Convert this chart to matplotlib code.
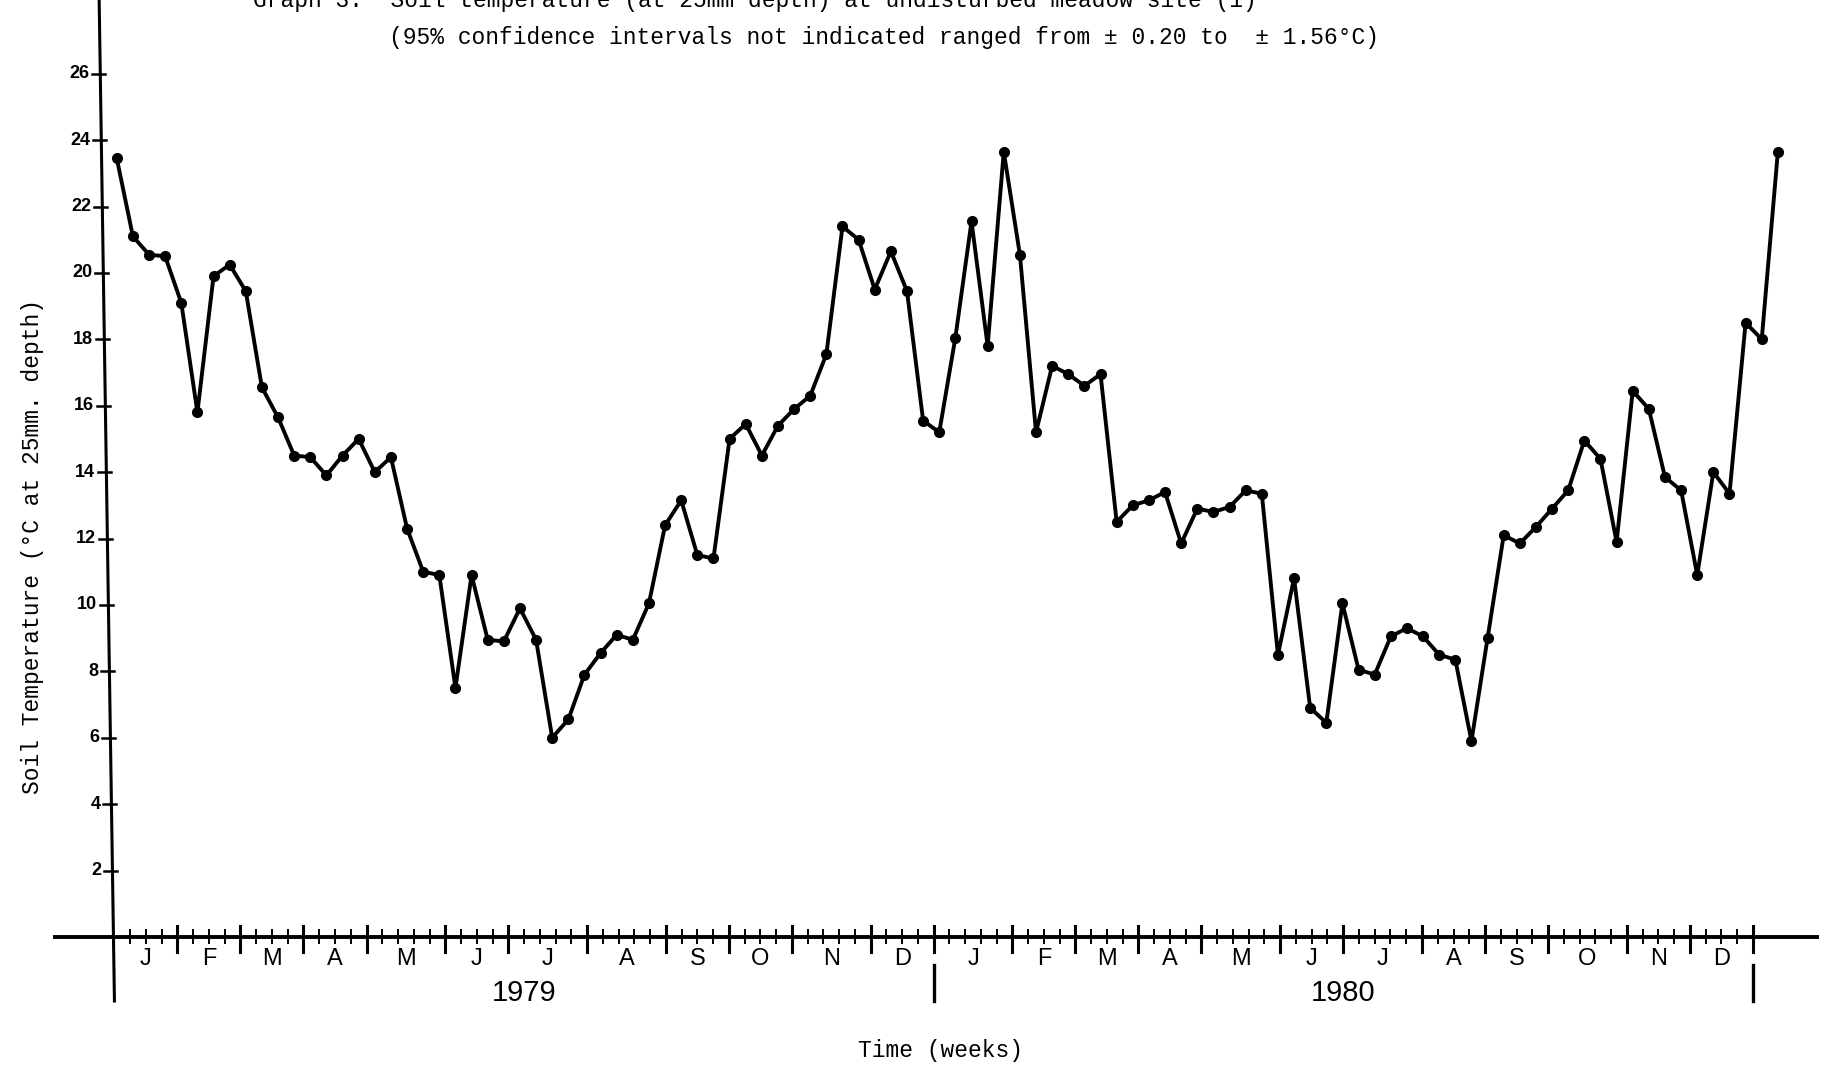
import matplotlib
matplotlib.use('Agg')
import matplotlib.pyplot as plt
import numpy as np

# weekly soil temperature readings, Jan 1979 - Dec 1980 (deg C at 25mm)
temp = [23.45, 21.1, 20.55, 20.5, 19.1, 15.8, 19.9, 20.25, 19.45, 16.55,
        15.65, 14.5, 14.45, 13.9, 14.5, 15.0, 14.0, 14.45, 12.3, 11.0,
        10.9, 7.5, 10.9, 8.95, 8.9, 9.9, 8.95, 6.0, 6.55, 7.9,
        8.55, 9.1, 8.95, 10.05, 12.4, 13.15, 11.5, 11.4, 15.0, 15.45,
        14.5, 15.4, 15.9, 16.3, 17.55, 21.4, 21.0, 19.5, 20.65, 19.45,
        15.55, 15.2, 18.05, 21.55, 17.8, 23.65, 20.55, 15.2, 17.2, 16.95,
        16.6, 16.95, 12.5, 13.0, 13.15, 13.4, 11.85, 12.9, 12.8, 12.95,
        13.45, 13.35, 8.5, 10.8, 6.9, 6.45, 10.05, 8.05, 7.9, 9.05,
        9.3, 9.05, 8.5, 8.35, 5.9, 9.0, 12.1, 11.85, 12.35, 12.9,
        13.45, 14.95, 14.4, 11.9, 16.45, 15.9, 13.85, 13.45, 10.9, 14.0,
        13.35, 18.5, 18.0, 23.65]

months = ['J', 'F', 'M', 'A', 'M', 'J', 'J', 'A', 'S', 'O', 'N', 'D']
weeks_1979 = [4, 4, 4, 4, 5, 4, 5, 5, 4, 4, 5, 4]
weeks_1980 = [5, 4, 4, 4, 5, 4, 5, 4, 4, 5, 4, 4]
years = ['1979', '1980']
yticks = list(range(2, 27, 2))

MONO = ['Liberation Mono', 'DejaVu Sans Mono']
NARROW = ['Liberation Sans Narrow', 'Liberation Sans', 'DejaVu Sans']

fig = plt.figure(figsize=(18.32, 10.66), dpi=100)
ax = fig.add_axes([53 / 1832, 65 / 1066, 1766 / 1832, 1001 / 1066])
x0, x1 = -3.9, 108.2
y0, y1 = -1.93, 28.22
ax.set_xlim(x0, x1)
ax.set_ylim(y0, y1)
ax.axis('off')

# the hand-drawn y axis leans a little to the left towards the top
def axis_x(v):
    return -0.97 * (v - y0) / (y1 - y0)

# samples were plotted slightly wider than one week apart
step = 1.0237
wk = 0.148 + step * np.arange(len(temp))

# axes
ax.plot([x0, x1], [0, 0], color='black', lw=2.8, clip_on=False,
        solid_capstyle='butt')
ax.plot([axis_x(y0), axis_x(y1)], [y0, y1], color='black', lw=2.2,
        clip_on=False)

# y ticks and labels
for v in yticks:
    xa = axis_x(v)
    ax.plot([xa - 0.55, xa + 0.3], [v, v], color='black', lw=1.8)
    ax.text(xa - 0.7, v, str(v), ha='right', va='center', fontsize=13,
            fontweight='bold', family=['Liberation Sans', 'DejaVu Sans'])

# week / month ticks along the time axis
bounds = np.cumsum([0] + weeks_1979 + weeks_1980)
for w in range(1, 105):
    if w in bounds:
        ax.plot([w, w], [0.34, -0.45], color='black', lw=2.2)
    else:
        ax.plot([w, w], [0.2, -0.18], color='black', lw=1.4)

for i, m in enumerate(months * 2):
    mid = (bounds[i] + bounds[i + 1]) / 2
    ax.text(mid, -0.68, m, ha='center', va='center', fontsize=17,
            family=NARROW)

# year separators and year labels
for w in (52, 104):
    ax.plot([w, w], [-0.85, -1.93], color='black', lw=2.4, clip_on=False)
for k, yr in enumerate(years):
    ax.text(26 + 52 * k, -1.68, yr, ha='center', va='center', fontsize=21,
            family=NARROW)

# temperature series
ax.plot(wk, temp, color='black', lw=2.8, marker='o', ms=7,
        solid_joinstyle='miter')

# titles and axis labels
fig.text(253 / 1832, 1059 / 1066,
         'Graph 3:  Soil temperature (at 25mm depth) at undisturbed meadow site (1)',
         ha='left', va='baseline', fontsize=16.5, family=MONO)
fig.text(389 / 1832, 1022 / 1066,
         '(95% confidence intervals not indicated ranged from \u00b1 0.20 to  \u00b1 1.56\u00b0C)',
         ha='left', va='baseline', fontsize=16.5, family=MONO)
fig.text(33 / 1832, 1 - 546 / 1066, 'Soil Temperature (\u00b0C at 25mm. depth)',
         rotation=90, ha='center', va='center', fontsize=16.5, family=MONO)
fig.text(940 / 1832, 1 - 1051 / 1066, 'Time (weeks)', ha='center',
         va='center', fontsize=16.5, family=MONO)

fig.savefig('out.png', dpi=100, facecolor='white')
